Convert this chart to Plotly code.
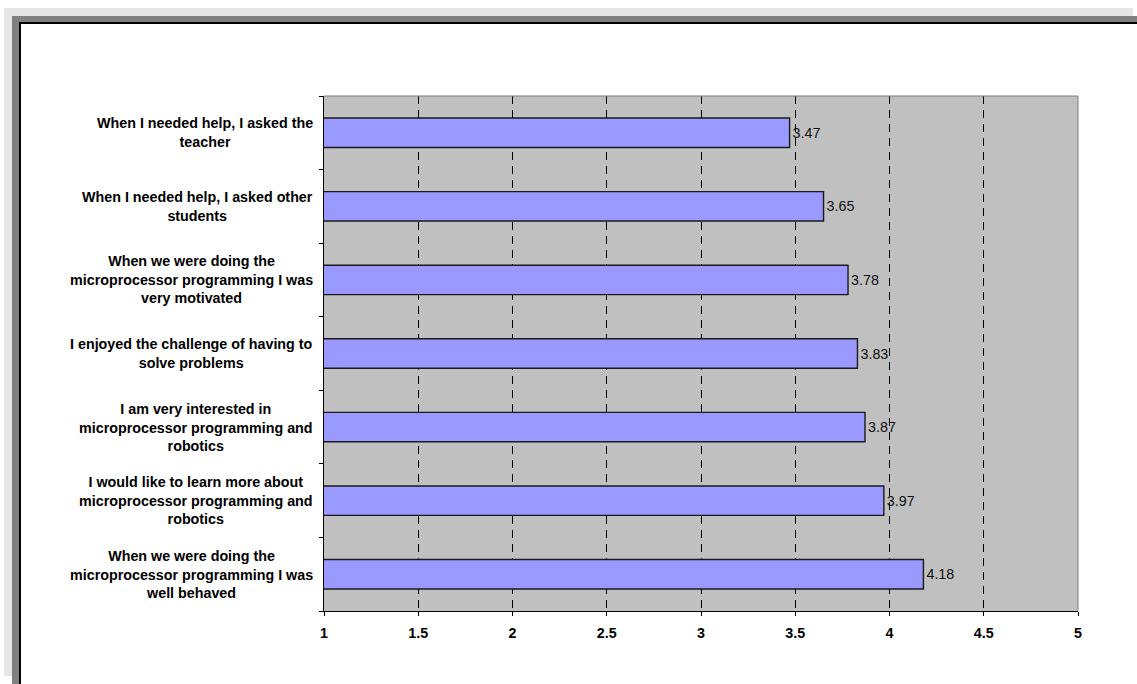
import plotly.graph_objects as go

categories = [
    "When I needed help, I asked the<br>teacher",
    "When I needed help, I asked other<br>students",
    "When we were doing the<br>microprocessor programming I was<br>very motivated",
    "I enjoyed the challenge of having to<br>solve problems",
    "I am very interested in<br>microprocessor programming and<br>robotics",
    "I would like to learn more about<br>microprocessor programming and<br>robotics",
    "When we were doing the<br>microprocessor programming I was<br>well behaved",
]
values = [3.47, 3.65, 3.78, 3.83, 3.87, 3.97, 4.18]
value_labels = ["3.47", "3.65", "3.78", "3.83", "3.87", "3.97", "4.18"]
x_ticks = [1, 1.5, 2, 2.5, 3, 3.5, 4, 4.5, 5]
x_tick_labels = ["1", "1.5", "2", "2.5", "3", "3.5", "4", "4.5", "5"]

W, H = 1137, 684
L, R, T, B = 324, 1078, 96, 611
FONT = "Arial, 'Liberation Sans', sans-serif"
FS = 14.3


def px(x):
    return (x - L) / (R - L)


def py(y):
    return (B - y) / (B - T)


fig = go.Figure()
fig.add_trace(go.Bar(
    y=list(range(len(categories))),
    x=values,
    orientation="h",
    marker=dict(color="#9999FF", line=dict(color="#1a1a1a", width=1.4)),
    text=value_labels,
    textposition="outside",
    textfont=dict(family=FONT, size=FS, color="#111111"),
    cliponaxis=False,
    hoverinfo="skip",
))

shapes = []
# frame: light shadow, dark border, black line, white interior
for (x0, y0, col) in [(4, 8, "#E6E6E6"), (12, 16, "#808080"), (19, 22, "#000000"), (21, 24, "#FFFFFF")]:
    x1 = 1133 if col == "#E6E6E6" else 1200
    y1 = 676 if col == "#E6E6E6" else 720
    shapes.append(dict(type="rect", xref="paper", yref="paper",
                       x0=px(x0), x1=px(x1), y0=py(y1), y1=py(y0),
                       fillcolor=col, line=dict(width=0), layer="below"))
# plot area background
shapes.append(dict(type="rect", xref="paper", yref="paper", x0=0, x1=1, y0=0, y1=1,
                   fillcolor="#C0C0C0", line=dict(width=0), layer="below"))
# plot area border (top and right) in gray
shapes.append(dict(type="line", xref="paper", yref="paper", x0=0, x1=1, y0=1, y1=1,
                   line=dict(color="#808080", width=1), layer="above"))
shapes.append(dict(type="line", xref="paper", yref="paper", x0=1, x1=1, y0=0, y1=1,
                   line=dict(color="#808080", width=1), layer="above"))

annotations = []
for i, c in enumerate(categories):
    annotations.append(dict(
        x=px(315), xref="paper", y=i, yref="y",
        text="<b>" + c + "</b>", showarrow=False,
        xanchor="right", yanchor="middle", align="center",
        font=dict(family=FONT, size=FS, color="#000000"),
    ))

fig.update_layout(
    width=W, height=H, autosize=False,
    margin=dict(l=L, r=W - R, t=T, b=H - B, pad=0),
    paper_bgcolor="#FFFFFF",
    plot_bgcolor="rgba(0,0,0,0)",
    showlegend=False,
    bargap=0.6,
    shapes=shapes,
    annotations=annotations,
    font=dict(family=FONT, size=FS, color="#000000"),
)
fig.update_xaxes(
    range=[1, 5], tickvals=x_ticks,
    ticktext=["<b>" + t + "</b>" for t in x_tick_labels],
    ticks="outside", ticklen=4, tickcolor="#000000", tickwidth=1,
    ticklabelstandoff=5,
    showline=True, linecolor="#000000", linewidth=1,
    showgrid=True, gridcolor="#000000", gridwidth=1, griddash="8px,6px",
    zeroline=False,
    tickfont=dict(family=FONT, size=FS, color="#000000"),
    fixedrange=True,
)
fig.update_yaxes(
    type="linear", range=[len(categories) - 0.5, -0.5],
    tickvals=[i - 0.5 for i in range(len(categories) + 1)],
    ticks="outside", ticklen=4, tickcolor="#000000", tickwidth=1,
    showticklabels=False,
    showline=True, linecolor="#000000", linewidth=1,
    showgrid=False, zeroline=False,
    fixedrange=True,
)

fig.write_html(
    "out.html",
    config={"displayModeBar": False},
    post_script="document.body.style.margin='0';document.body.style.overflow='hidden';",
)
